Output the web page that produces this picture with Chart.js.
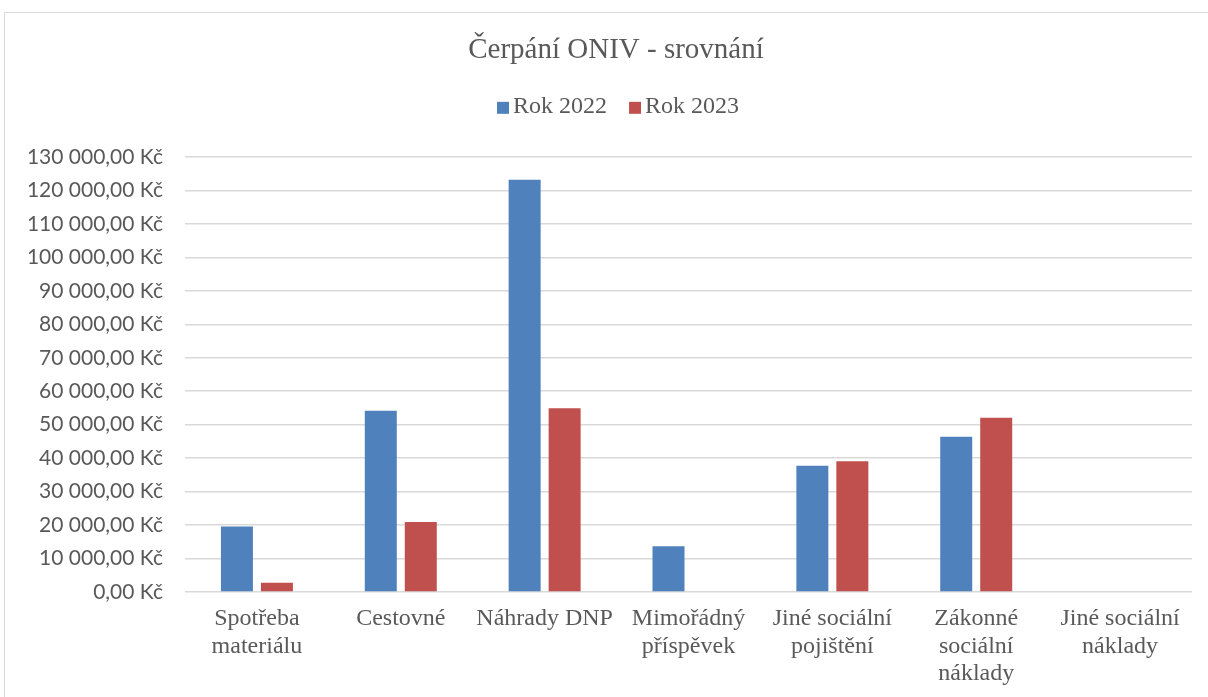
<!DOCTYPE html>
<html>
<head>
<meta charset="utf-8">
<script src="https://cdn.jsdelivr.net/npm/chart.js@4.4.1/dist/chart.umd.min.js"></script>
<style>
  html, body { margin: 0; padding: 0; background: #ffffff; overflow: hidden; width: 1208px; height: 697px; position: relative; }
  #frame { position: absolute; left: 4px; top: 12px; width: 1300px; height: 800px; border: 1px solid #d9d9d9; }
  #c { position: absolute; left: 0; top: 0; }
</style>
</head>
<body>
<div id="frame"></div>
<canvas id="c" width="1222" height="697"></canvas>
<script>
const titleText = 'Čerpání ONIV - srovnání';
const categories = [
  ['Spotřeba', 'materiálu'],
  'Cestovné',
  'Náhrady DNP',
  ['Mimořádný', 'příspěvek'],
  ['Jiné sociální', 'pojištění'],
  ['Zákonné', 'sociální', 'náklady'],
  ['Jiné sociální', 'náklady']
];
const seriesNames = ['Rok 2022', 'Rok 2023'];
const values2022 = [19600, 54200, 123200, 13700, 37700, 46400, 200];
const values2023 = [2800, 20900, 54900, 0, 39100, 52100, 0];
const yMin = 0;
const yMax = 130000;
const yStep = 10000;

const colors = ['#4F81BD', '#C0504D'];
const textColor = '#595959';

function makeIcon(color) {
  const cv = document.createElement('canvas');
  cv.width = 16; cv.height = 16;
  const cx = cv.getContext('2d');
  cx.fillStyle = color;
  cx.fillRect(4, 3, 12, 12);
  return cv;
}
const legendIcons = colors.map(makeIcon);

function formatKc(v) {
  const parts = Math.abs(v).toFixed(2).split('.');
  const intPart = parts[0].replace(/\B(?=(\d{3})+(?!\d))/g, ' ');
  return (v < 0 ? '-' : '') + intPart + ',' + parts[1] + ' Kč';
}

const LEGEND_H = 88.2;
const LEGEND_SHIFT_X = 4;
const legendFix = {
  id: 'legendFix',
  beforeLayout(chart) {
    const lg = chart.legend;
    if (lg && !lg.__patched) {
      const origFit = lg.fit;
      lg.fit = function () { origFit.call(this); this.height = LEGEND_H; };
      const origDraw = lg.draw;
      lg.draw = function () {
        const c = this.ctx;
        c.save();
        c.translate(LEGEND_SHIFT_X, 0);
        origDraw.call(this);
        c.restore();
      };
      lg.__patched = true;
    }
  }
};

new Chart(document.getElementById('c'), {
  type: 'bar',
  data: {
    labels: categories,
    datasets: [
      { label: seriesNames[0], data: values2022, backgroundColor: colors[0], borderWidth: 0,
        barPercentage: 0.8, categoryPercentage: 0.556 },
      { label: seriesNames[1], data: values2023, backgroundColor: colors[1], borderWidth: 0,
        barPercentage: 0.8, categoryPercentage: 0.556 }
    ]
  },
  plugins: [legendFix],
  options: {
    responsive: false,
    animation: false,
    devicePixelRatio: 1,
    layout: { padding: { left: 10, right: 0, top: 0, bottom: 0 } },
    plugins: {
      title: {
        display: true,
        text: titleText,
        color: textColor,
        font: { family: '"Liberation Serif", "Times New Roman", serif', size: 29, weight: 'normal' },
        padding: { top: 33, bottom: 1 }
      },
      legend: {
        display: true,
        position: 'top',
        labels: {
          color: textColor,
          font: { family: '"Liberation Serif", "Times New Roman", serif', size: 24 },
          usePointStyle: true,
          boxWidth: 0.01,
          padding: 26,
          generateLabels(chart) {
            const items = Chart.defaults.plugins.legend.labels.generateLabels(chart);
            items.forEach((it, i) => { it.pointStyle = legendIcons[i % legendIcons.length]; });
            return items;
          }
        }
      },
      tooltip: { enabled: false }
    },
    scales: {
      x: {
        grid: { display: false, drawTicks: false },
        border: { display: false },
        ticks: {
          color: textColor,
          font: { family: '"Liberation Serif", "Times New Roman", serif', size: 24, lineHeight: 1.15 },
          padding: 13,
          maxRotation: 0,
          minRotation: 0,
          autoSkip: false
        },
        afterFit(s) { s.height = 105; }
      },
      y: {
        min: yMin,
        max: yMax,
        grid: { color: '#d9d9d9', lineWidth: 1.5, drawTicks: false },
        border: { display: false },
        ticks: {
          stepSize: yStep,
          color: textColor,
          font: { family: 'Lato, "Open Sans", sans-serif', size: 21 },
          padding: 22,
          callback: (v) => formatKc(v)
        },
        afterFit(s) { s.width = 175; }
      },
      yRight: {
        type: 'linear',
        position: 'right',
        display: true,
        grid: { display: false, drawTicks: false },
        border: { display: false },
        ticks: { display: false },
        afterFit(s) { s.width = 30; }
      }
    }
  }
});
</script>
</body>
</html>
